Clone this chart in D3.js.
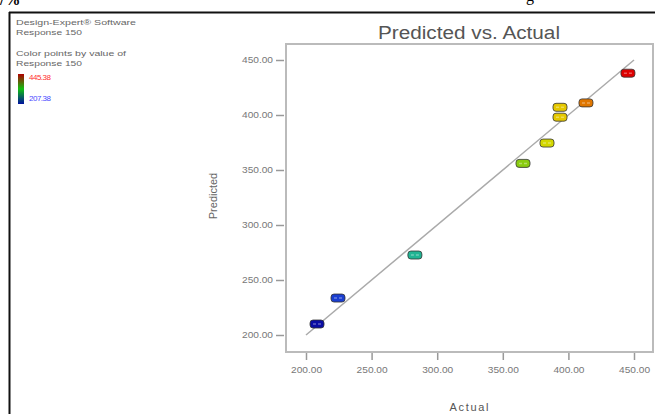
<!DOCTYPE html>
<html lang="en">

<head>
    <meta charset="UTF-8" />
    <title>Predicted vs. Actual</title>
    <style>
        body { margin: 0; background: #fff; }
        #container { width: 655px; height: 414px; overflow: hidden; }
        text { font-family: "Liberation Sans", Arial, sans-serif; }
    </style>
</head>

<body>
    <div id="container"></div>
</body>
<script src="https://cdnjs.cloudflare.com/ajax/libs/d3/7.8.5/d3.min.js"></script>
<script>
    // data
    let actual = [208.4, 224.4, 283.0, 365.4, 383.7, 393.6, 393.6, 413.4, 445.38],
        predicted = [210.0, 233.6, 272.7, 356.0, 374.5, 398.0, 407.0, 411.0, 438.0],
        xTicks = [200, 250, 300, 350, 400, 450],
        yTicks = [200, 250, 300, 350, 400, 450],
        colorMin = 207.38, colorMax = 445.38;

    let W = 655, H = 414;

    let svg = d3.select('#container').append('svg').attr('width', W).attr('height', H)

    // scales
    let x = d3.scaleLinear().domain([200, 450]).range([306, 634]);
    let y = d3.scaleLinear().domain([200, 450]).range([335, 60]);
    let color = d3.scaleLinear()
        .domain([207.38, 230, 285, 365, 385, 396, 413, 445.38])
        .range(['#0a0aa0', '#1f4fe0', '#20b890', '#88cc10', '#d8d800', '#e8c400', '#e07800', '#dd0000']);

    // document frame (page border)
    svg.append('line').attr('x1', 9).attr('x2', W).attr('y1', 12.5).attr('y2', 12.5)
        .attr('stroke', '#111').attr('stroke-width', 2)
    svg.append('line').attr('x1', 9.5).attr('x2', 9.5).attr('y1', 12).attr('y2', H)
        .attr('stroke', '#111').attr('stroke-width', 2)
    // clipped text from the page above
    svg.append('text').attr('x', 0).attr('y', 5).text('/%')
        .style('font-family', 'Liberation Serif').style('font-size', '16px').style('font-weight', 'bold')
    svg.append('text').attr('x', 526).attr('y', 1).text('g')
        .style('font-family', 'Liberation Serif').style('font-size', '16px')

    // legend
    let leg = svg.append('g').style('fill', '#666').style('font-size', '8px')
    leg.append('text').attr('x', 16).attr('y', 25).text('Design-Expert® Software').attr('textLength', 120).attr('lengthAdjust', 'spacingAndGlyphs')
    leg.append('text').attr('x', 16).attr('y', 35).text('Response 150').attr('textLength', 66).attr('lengthAdjust', 'spacingAndGlyphs')
    leg.append('text').attr('x', 16).attr('y', 56).text('Color points by value of').attr('textLength', 110).attr('lengthAdjust', 'spacingAndGlyphs')
    leg.append('text').attr('x', 16).attr('y', 66).text('Response 150').attr('textLength', 66).attr('lengthAdjust', 'spacingAndGlyphs')

    let grad = svg.append('defs').append('linearGradient').attr('id', 'cbar')
        .attr('x1', 0).attr('x2', 0).attr('y1', 0).attr('y2', 1)
    grad.append('stop').attr('offset', '0%').attr('stop-color', '#b00000')
    grad.append('stop').attr('offset', '50%').attr('stop-color', '#10c010')
    grad.append('stop').attr('offset', '100%').attr('stop-color', '#0010a0')
    svg.append('rect').attr('x', 18).attr('y', 74).attr('width', 6).attr('height', 30)
        .attr('fill', 'url(#cbar)')
    svg.append('text').attr('x', 29).attr('y', 80).text(colorMax.toFixed(2))
        .style('fill', '#ff3030').style('font-size', '8px').attr('textLength', 22)
    svg.append('text').attr('x', 29).attr('y', 101).text(colorMin.toFixed(2))
        .style('fill', '#4848ff').style('font-size', '8px').attr('textLength', 22)

    // plot box
    svg.append('rect').attr('x', 286).attr('y', 44).attr('width', 367).attr('height', 308)
        .attr('fill', 'none').attr('stroke', '#bbb').attr('stroke-width', 2)

    // title
    svg.append('text').attr('x', 469).attr('y', 39).attr('text-anchor', 'middle')
        .text('Predicted vs. Actual').style('font-size', '18px').style('fill', '#555')
        .attr('textLength', 182).attr('lengthAdjust', 'spacingAndGlyphs')

    // axes
    let yAxis = svg.append('g').attr('transform', 'translate(284,0)')
        .call(d3.axisLeft(y).tickValues(yTicks).tickFormat(d3.format('.2f')).tickSize(8).tickPadding(3))
    let xAxis = svg.append('g').attr('transform', 'translate(0,353)')
        .call(d3.axisBottom(x).tickValues(xTicks).tickFormat(d3.format('.2f')).tickSize(7).tickPadding(7))
    svg.selectAll('.domain').remove()
    svg.selectAll('.tick line').attr('stroke', '#999').attr('stroke-width', 1.5)
    svg.selectAll('.tick text').style('fill', '#777').style('font-size', '9px')
        .style('font-family', '"Liberation Sans", Arial, sans-serif').attr('textLength', 31).attr('lengthAdjust', 'spacingAndGlyphs')

    // axis titles
    svg.append('text').attr('transform', 'translate(217,196) rotate(-90)').attr('text-anchor', 'middle')
        .text('Predicted').style('font-size', '11px').style('fill', '#666')
    svg.append('text').attr('x', 469).attr('y', 411).attr('text-anchor', 'middle')
        .text('Actual').style('font-size', '11px').style('fill', '#555')
        .attr('textLength', 39)

    // 45 degree line
    svg.append('line')
        .attr('x1', x(200)).attr('y1', y(200)).attr('x2', x(450)).attr('y2', y(450))
        .attr('stroke', '#aaa').attr('stroke-width', 1.5)

    // points
    let pts = d3.range(actual.length)
    svg.selectAll('rect.pt').data(pts).enter().append('rect').attr('class', 'pt')
        .attr('x', (i) => x(actual[i]) - 7)
        .attr('y', (i) => y(predicted[i]) - 4)
        .attr('width', 14).attr('height', 8).attr('rx', 3)
        .attr('fill', (i) => color(actual[i]))
        .attr('stroke', '#333').attr('stroke-width', 0.8)
    svg.selectAll('line.pt').data(pts).enter().append('line').attr('class', 'pt')
        .attr('x1', (i) => x(actual[i]) - 4).attr('x2', (i) => x(actual[i]) + 4)
        .attr('y1', (i) => y(predicted[i])).attr('y2', (i) => y(predicted[i]))
        .attr('stroke', '#fff').attr('stroke-opacity', 0.35).attr('stroke-width', 1.5)
        .attr('stroke-dasharray', '3,2')
</script>

</html>
